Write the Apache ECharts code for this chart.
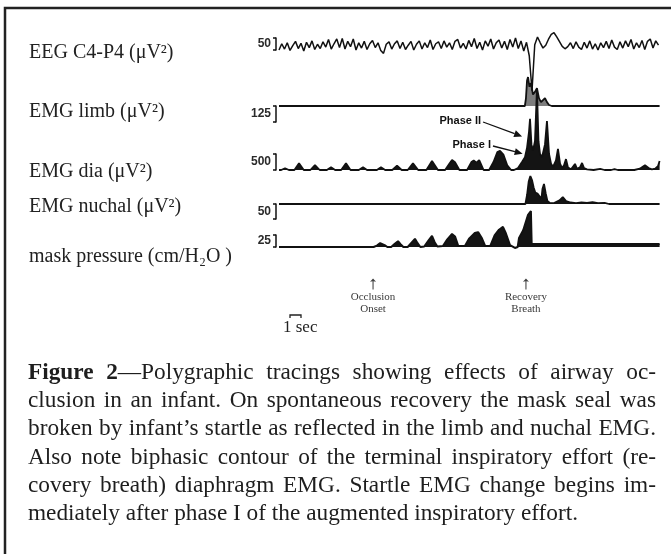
<!DOCTYPE html>
<html>
<head>
<meta charset="utf-8">
<script src="https://cdn.jsdelivr.net/npm/echarts@6/dist/echarts.min.js"></script>
<style>
  html, body { margin: 0; padding: 0; background: #fff; }
  #wrap { position: relative; width: 671px; height: 554px; overflow: hidden; }
  #chart { position: absolute; left: 0; top: 0; width: 671px; height: 554px; }
  #caption { position: absolute; left: 28px; top: 357px; width: 628px; font-family: "Liberation Serif", "Times New Roman", serif; font-size: 23.3px; line-height: 28.2px; color: #1e1e1e; }
  #caption div { text-align: justify; text-align-last: justify; }
  #caption div.last { text-align-last: left; }
</style>
</head>
<body>
<div id="wrap">
  <div id="chart"></div>
  <div id="caption">
    <div><b>Figure 2</b>—Polygraphic tracings showing effects of airway oc-</div>
    <div>clusion in an infant. On spontaneous recovery the mask seal was</div>
    <div>broken by infant’s startle as reflected in the limb and nuchal EMG.</div>
    <div>Also note biphasic contour of the terminal inspiratory effort (re-</div>
    <div>covery breath) diaphragm EMG. Startle EMG change begins im-</div>
    <div class="last">mediately after phase I of the augmented inspiratory effort.</div>
  </div>
</div>
<script>
// channel names and calibration brackets
const channelNames = ['EEG C4-P4 (μV²)', 'EMG limb (μV²)', 'EMG dia (μV²)', 'EMG nuchal (μV²)', 'mask pressure (cm/H₂O )'];
const calValues = [50, 125, 500, 50, 25];

// time in seconds; EEG sampled every 0.25 s
const eegStep = 0.25;
const eegValues = [
  0, 26, 4, 30, -2, 18, 36, 6, 28, -4,
  32, 10, 38, 2, 24, 6, 34, 12, 44, 4,
  26, 46, 10, 48, 4, 36, 14, 46, 0, 30,
  8, 36, 2, 26, 40, 10, 30, -2, -14, 24,
  34, 4, 26, 38, 6, 32, 2, 20, 36, 0,
  24, 38, 4, 30, 10, 42, 2, 26, 34, 6,
  38, 12, 30, 2, 36, 44, 8, 28, 4, 40,
  14, 48, 6, 32, 0, 38, 16, 46, 4, 30,
  42, 8, 36, 2, 44, 12, 50, 6, 38, -4,
  32, -24, -170, 22, 54, 30, 8, 20, 45, 65,
  72, 55, 35, 15, 5, 14, 30, 6, 34, 12,
  2, 32, 8, 38, 4, 26, 0, 30, 10, 36,
  6, 42, 12, 2, 34, 8, 38, 14, 44, 4,
  30, 10, 40, 2, 36, 46, 8, 38, 20
];

const limbTrace = [[0,0],[22.35,0],[22.45,60],[22.55,200],[22.64,226],[22.77,150],[22.9,180],[23.09,90],[23.27,110],[23.45,140],[23.64,60],[23.82,30],[24.0,40],[24.18,62],[24.36,30],[24.55,8],[24.8,0],[34.6,0]];

const diaTrace = [
  [0,0],[0.2,0],[0.55,55],[0.9,0],
  [1.4,0],[1.82,210],[2.25,0],
  [2.85,0],[3.27,155],[3.7,0],
  [4.35,0],[4.73,85],[5.1,0],
  [5.65,0],[6.09,210],[6.5,0],
  [7.25,0],[7.64,85],[8.0,0],
  [8.9,0],[9.27,85],[9.65,0],
  [10.3,0],[10.73,135],[11.15,0],
  [11.7,0],[12.18,210],[12.65,0],
  [13.4,0],[13.91,280],[14.45,0],
  [15.1,0],[15.5,200],[15.73,310],[16.0,240],[16.4,0],
  [17.1,0],[17.5,250],[17.7,300],[17.95,230],[18.2,310],[18.6,0],
  [19.1,0],[19.5,250],[19.85,560],[20.09,600],[20.4,480],[20.75,150],[21.1,0],
  [21.36,0],[21.73,60],[22.09,250],[22.36,400],[22.55,700],[22.73,1200],[22.82,1600],[22.95,800],
  [23.09,600],[23.27,900],[23.45,2530],[23.59,900],[23.73,500],[23.91,400],[24.18,800],[24.36,1530],
  [24.55,500],[24.73,200],[24.91,100],[25.18,300],[25.36,660],[25.55,200],[25.73,60],[25.91,150],
  [26.09,340],[26.27,80],[26.55,20],[26.73,60],[26.91,190],[27.09,40],[27.36,80],[27.55,220],
  [27.73,60],[28.0,20],[28.6,0],[29.2,35],[29.6,0],[30.2,0],[30.5,25],[30.8,0],
  [32.3,0],[32.8,40],[33.27,150],[33.6,60],[33.9,20],[34.2,40],[34.45,120],[34.6,280]
];

const nuchalTrace = [[0,0],[12.2,0],[12.36,3],[12.5,0],[22.4,0],[22.55,30],[22.7,75],[22.85,93],[23.0,80],[23.15,55],[23.3,38],[23.5,35],[23.7,25],[23.85,15],[23.95,50],[24.09,67],[24.25,35],[24.4,10],[24.6,4],[25.0,3],[25.5,12],[25.8,23],[26.1,10],[26.5,5],[27.0,3],[27.5,5],[28.0,4],[28.5,6],[29.0,3],[29.6,4],[30.0,0],[34.3,0],[34.45,-3],[34.6,0]];

const maskTrace = [
  [0,0],[8.6,0],[8.9,3],[9.2,8],[9.36,10],[9.6,4],[9.85,0],
  [10.2,0],[10.5,6],[10.82,12],[11.05,6],[11.3,0],
  [11.7,0],[12.05,9],[12.36,17],[12.6,8],[12.85,0],
  [13.2,1],[13.6,14],[13.91,23],[14.15,10],[14.4,1],
  [14.9,2],[15.3,16],[15.73,27],[16.0,22],[16.3,2],
  [16.9,2],[17.3,18],[17.8,29],[18.1,31],[18.45,18],[18.75,2],
  [19.2,2],[19.6,24],[20.0,36],[20.36,42],[20.6,30],[21.0,4],[21.45,-2],[21.7,0],
  [21.82,19],[22.2,35],[22.64,67],[22.9,75],[22.97,6],[23.5,6],[34.6,6]
];

const eventTimes = [8.55, 22.45];
const eventLabels = ['Occlusion\nOnset', 'Recovery\nBreath'];
const phaseNames = ['Phase II', 'Phase I'];
const phaseFrom = [[18.55, 1500], [19.45, 750]];
const phaseTo = [[22.1, 1050], [22.15, 510]];
const scaleBar = [1, 2]; // seconds

// layout per lane
const lanes = [
  { top: 38,  height: 12, hang: false, labelY: 53,  pad: 2 },
  { top: 106, height: 16, hang: true,  labelY: 112, pad: 6 },
  { top: 154, height: 16, hang: false, labelY: 172, pad: 8 },
  { top: 204, height: 15, hang: true,  labelY: 207, pad: 9 },
  { top: 235, height: 12, hang: false, labelY: 257, pad: 0 }
];
const traces = [eegValues.map((v, i) => [i * eegStep, v]), limbTrace, diaTrace, nuchalTrace, maskTrace];
const fills = [null, '#7d7d7d', '#141414', '#141414', '#141414'];
const widths = [1.5, 1.8, 1.8, 1.8, 2];

const chart = echarts.init(document.getElementById('chart'));
const GL = 279, GW = 385;
const serif = '"Liberation Serif", "Times New Roman", serif';
const sans = '"Liberation Sans", Arial, sans-serif';

const grid = lanes.map(l => ({ left: GL, width: GW, top: l.top, height: l.height }));
grid.push({ left: GL, width: GW, top: 279, height: 10 });

const xAxis = grid.map((g, i) => ({ gridIndex: i, type: 'value', min: 0, max: 35, show: false }));
const yAxis = lanes.map((l, i) => ({
  gridIndex: i, type: 'value', position: 'left', offset: 3,
  min: l.hang ? -calValues[i] : 0, max: l.hang ? 0 : calValues[i], interval: calValues[i],
  axisLine: { show: true, onZero: false, lineStyle: { color: '#111', width: 1.5 } },
  axisTick: { show: true, length: 3, lineStyle: { color: '#111', width: 1.5 } },
  axisLabel: { show: false }, splitLine: { show: false },
  name: String(calValues[i]), nameLocation: 'middle', nameRotate: 0, nameGap: 5,
  nameTextStyle: { fontFamily: sans, fontWeight: 'bold', fontSize: 12, color: '#2a2a2a', padding: [l.pad, 0, 0, 0] }
}));
yAxis.push({ gridIndex: 5, type: 'value', min: 0, max: 1, show: false });

const series = traces.map((d, i) => ({
  type: 'line', xAxisIndex: i, yAxisIndex: i, data: d, symbol: 'none', clip: false,
  lineStyle: { color: '#111', width: widths[i] },
  areaStyle: fills[i] ? { color: fills[i], opacity: 1 } : undefined,
  emphasis: { disabled: true }, silent: true
}));

series.push({
  type: 'scatter', xAxisIndex: 5, yAxisIndex: 5, silent: true,
  data: eventTimes.map((t, i) => ({ value: [t, 0.5], name: eventLabels[i] })),
  symbol: 'path://M5 0 L9 6 L5.7 5 L5.7 20 L4.3 20 L4.3 5 L1 6 Z', symbolSize: [6, 11],
  itemStyle: { color: '#111' },
  label: { show: true, position: 'bottom', distance: 2, formatter: '{b}', fontFamily: serif, fontSize: 11, lineHeight: 12, color: '#000', align: 'center' }
});

chart.setOption({ animation: false, backgroundColor: '#fff', grid, xAxis, yAxis, series });

const x1 = chart.convertToPixel({ xAxisIndex: 5 }, scaleBar[0]);
const x2 = chart.convertToPixel({ xAxisIndex: 5 }, scaleBar[1]);

// phase annotations on the diaphragm lane
const phaseGraphics = [];
phaseNames.forEach((n, i) => {
  const p0 = chart.convertToPixel({ xAxisIndex: 2, yAxisIndex: 2 }, phaseFrom[i]);
  const p1 = chart.convertToPixel({ xAxisIndex: 2, yAxisIndex: 2 }, phaseTo[i]);
  const dx = p1[0] - p0[0], dy = p1[1] - p0[1], len = Math.hypot(dx, dy);
  const ux = dx / len, uy = dy / len, hl = 8, hw = 3.5;
  const bx = p1[0] - ux * hl, by = p1[1] - uy * hl;
  phaseGraphics.push(
    { type: 'line', silent: true, shape: { x1: p0[0], y1: p0[1], x2: bx, y2: by }, style: { stroke: '#111', lineWidth: 1.3 } },
    { type: 'polygon', silent: true, shape: { points: [[p1[0], p1[1]], [bx - uy * hw, by + ux * hw], [bx + uy * hw, by - ux * hw]] }, style: { fill: '#111' } },
    { type: 'text', silent: true, x: p0[0] - 2, y: p0[1] - 1, style: { text: n, font: 'bold 11px ' + sans, fill: '#111', textAlign: 'right', textVerticalAlign: 'middle' } }
  );
});

const graphic = [
  { type: 'rect', silent: true, shape: { x: 5, y: 8, width: 700, height: 600 }, style: { fill: 'none', stroke: '#222', lineWidth: 2.5 } },
  ...channelNames.map((n, i) => ({ type: 'text', silent: true, x: 29, y: lanes[i].labelY, style: { text: n, font: '20px ' + serif, fill: '#222', textVerticalAlign: 'middle' } })),
  ...phaseGraphics,
  { type: 'polyline', silent: true, shape: { points: [[x1, 318], [x1, 315], [x2, 315], [x2, 318]] }, style: { stroke: '#222', lineWidth: 1.3, fill: 'none' } },
  { type: 'text', silent: true, x: x1 - 7, y: 328, style: { text: '1 sec', font: '17px ' + serif, fill: '#222', textVerticalAlign: 'middle' } }
];
chart.setOption({ graphic });
</script>
</body>
</html>
